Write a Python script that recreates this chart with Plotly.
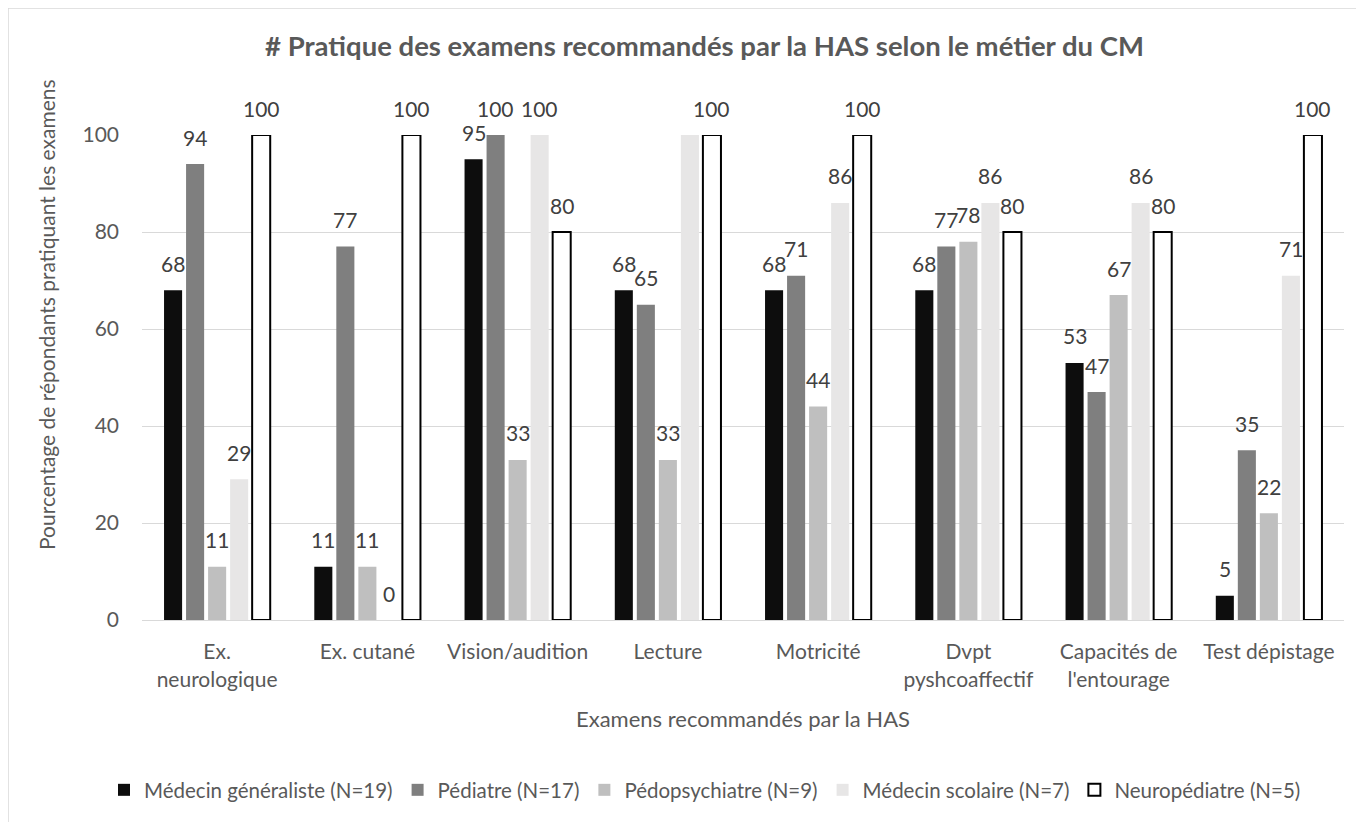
import plotly.graph_objects as go

categories = ["Ex.<br>neurologique", "Ex. cutané", "Vision/audition", "Lecture",
              "Motricité", "Dvpt<br>pyshcoaffectif", "Capacités de<br>l'entourage",
              "Test dépistage"]

generaliste = [68, 11, 95, 68, 68, 68, 53, 5]
pediatre = [94, 77, 100, 65, 71, 77, 47, 35]
pedopsy = [11, 11, 33, 33, 44, 78, 67, 22]
scolaire = [29, 0, 100, 100, 86, 86, 86, 71]
neuroped = [100, 100, 80, 100, 100, 80, 80, 100]

# the reference shows no label on the Médecin scolaire / Lecture bar
scolaire_labels = ["29", "0", "100", "", "86", "86", "86", "71"]

series = [
    ("Médecin généraliste (N=19)", generaliste, None, "#0d0d0d", "#0d0d0d", 0),
    ("Pédiatre (N=17)", pediatre, None, "#7f7f7f", "#7f7f7f", 0),
    ("Pédopsychiatre (N=9)", pedopsy, None, "#bfbfbf", "#bfbfbf", 0),
    ("Médecin scolaire (N=7)", scolaire, scolaire_labels, "#e7e6e6", "#e7e6e6", 0),
    ("Neuropédiatre (N=5)", neuroped, None, "#ffffff", "#000000", 2),
]

FONT = "Lato"
GREY = "#595959"

# the page is drawn with an 8px body margin, so the figure is 8px smaller
W, H = 1356, 814
L, R, T, B = 134, 20, 127, 202
plot_w = W - L - R
group_frac = 1 - 0.267
slot = plot_w / len(categories) * group_frac / len(series)

fig = go.Figure()
for i, (name, vals, labels, fill, edge, lw) in enumerate(series):
    fig.add_trace(go.Bar(
        x=categories, y=vals, name=name,
        marker=dict(color=fill, line=dict(color=edge, width=lw)),
    ))
    labels = labels if labels else [str(v) for v in vals]
    for cat, v, lab in zip(categories, vals, labels):
        if not lab:
            continue
        fig.add_annotation(x=cat, y=v, text=lab, showarrow=False,
                           xshift=(i - 2) * slot, yshift=27, yanchor="middle",
                           font=dict(size=21, color="#404040", family=FONT))

fig.update_layout(
    width=W, height=H,
    margin=dict(l=L, r=R, t=T, b=B, autoexpand=False),
    paper_bgcolor="white", plot_bgcolor="white",
    font=dict(family=FONT, color=GREY, size=21),
    barmode="group", bargap=0.267, bargroupgap=0.18,
    title=dict(text="<b># Pratique des examens recommandés par la HAS selon le métier du CM</b>",
               x=696.5 / W, xanchor="center", y=1 - 38 / H, yanchor="middle",
               font=dict(size=27.5, color=GREY, family=FONT)),
    legend=dict(orientation="h", xref="container", x=697 / W, xanchor="center",
                yref="container", y=1 - 782 / H, yanchor="middle",
                font=dict(size=20.5, color=GREY),
                traceorder="normal", itemwidth=30, tracegroupgap=0),
    showlegend=True,
)

fig.update_yaxes(range=[0, 100], dtick=20, showgrid=True, gridcolor="#d9d9d9",
                 gridwidth=1, zeroline=False, showline=False, ticks="",
                 ticklabelstandoff=22, tickfont=dict(size=21, color=GREY))
fig.update_xaxes(showline=True, linecolor="#d9d9d9", linewidth=1, ticks="",
                 tickangle=0, automargin=False,
                 ticklabelstandoff=13, tickfont=dict(size=21, color=GREY),
                 title=dict(text="Examens recommandés par la HAS",
                            font=dict(size=22, color=GREY), standoff=22))

fig.add_annotation(text="Pourcentage de répondants pratiquant les examens",
                   xref="paper", yref="paper", x=(46 - 142) / 1202, y=(620 - 315) / 485,
                   textangle=-90, showarrow=False, xanchor="center", yanchor="middle",
                   font=dict(size=21, color=GREY))

# chart-area border (top and left visible)
fig.add_shape(type="rect", xref="paper", yref="paper",
              x0=(8 - 142) / 1202, x1=(1362 - 142) / 1202,
              y0=(620 - 830) / 485, y1=(620 - 8) / 485,
              line=dict(color="#d9d9d9", width=1.5), layer="below")

fig.write_html("out.html")
